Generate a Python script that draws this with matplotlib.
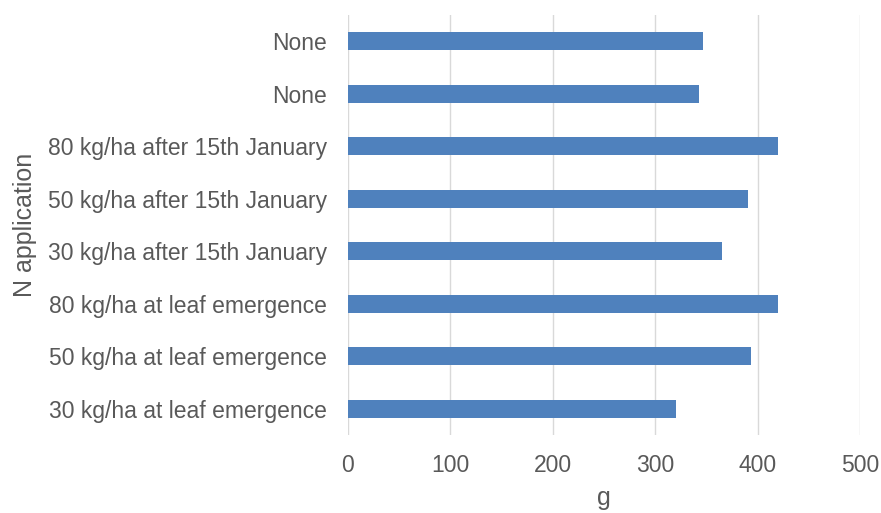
import matplotlib
matplotlib.use("Agg")
import matplotlib.pyplot as plt

categories = [
    "30 kg/ha at leaf emergence",
    "50 kg/ha at leaf emergence",
    "80 kg/ha at leaf emergence",
    "30 kg/ha after 15th January",
    "50 kg/ha after 15th January",
    "80 kg/ha after 15th January",
    "None",
    "None",
]
values = [320, 394, 420, 365, 391, 420, 343, 347]
xticks = [0, 100, 200, 300, 400, 500]

plt.rcParams['font.family'] = ['Liberation Sans', 'DejaVu Sans']
fig = plt.figure(figsize=(8.81, 5.13), dpi=100)
ax = fig.add_axes([348/881, 1-435/513, (860-348)/881, (435-15)/513])

pos = list(range(len(categories)))
ax.barh(pos, values, height=0.34, color='#4f81bd', zorder=3)
ax.set_yticks(pos)
ax.set_yticklabels(categories)
ax.set_ylim(-0.5, len(categories)-0.5)
ax.set_xlim(0, 500)
ax.set_xticks(xticks)
ax.grid(axis='x', color='#d9d9d9', linewidth=1, zorder=0)
for s in ax.spines.values():
    s.set_visible(False)
ax.tick_params(axis='y', length=0, pad=15, labelsize=16.5, labelcolor='#595959')
ax.tick_params(axis='x', length=0, pad=14, labelsize=16.5, labelcolor='#595959')
ax.set_xlabel('g', fontsize=18, color='#595959', labelpad=6)
ax.set_ylabel('N application', fontsize=18, color='#595959', labelpad=8)
fig.savefig('out.png', dpi=100)
